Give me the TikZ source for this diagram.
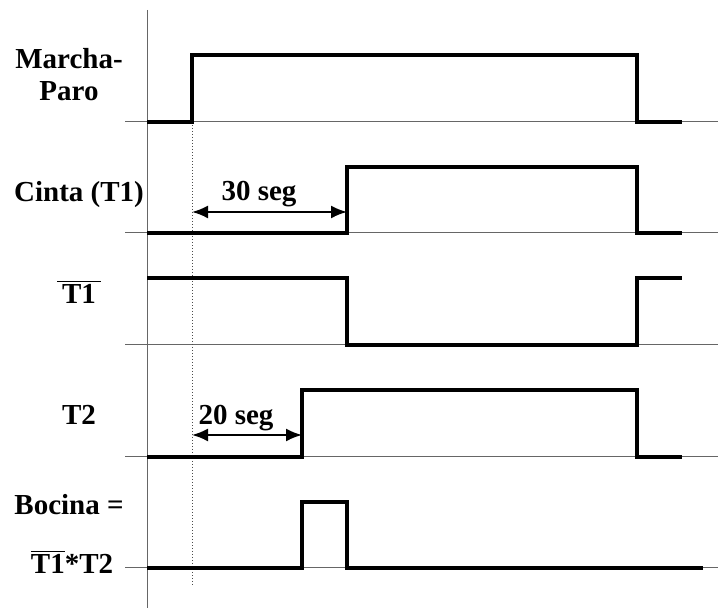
\documentclass[tikz,border=0pt]{standalone}
\usepackage{fontspec}
\setmainfont{Liberation Serif}
\usetikzlibrary{arrows.meta,positioning}

\begin{document}
\begin{tikzpicture}[x=0.5pt, y=0.5pt,
  every node/.style={font=\fontsize{14.5}{16}\selectfont\bfseries, inner sep=0pt},
  eje/.style={draw=black!60, line width=0.5pt},
  guia/.style={draw=black!70, densely dotted, line width=0.5pt},
  senal/.style={draw=black, line width=2pt},
  cota/.style={draw=black, line width=1pt,
    {Latex[length=8pt,width=6.5pt]}-{Latex[length=8pt,width=6.5pt]}}]
  \useasboundingbox (0,0) rectangle (718,608);
  \foreach \y in {486,375,263,151,40}
    \draw[eje] (125,\y) -- (718,\y);
  \draw[eje] (147,598) -- (147,0);
  \draw[guia] (192,486) -- (192,21);
  \node[align=center] (marcha) at (69,533) {Marcha-\\Paro};
  \node (cinta) at (79,413) {Cinta (T1)};
  \node (t1neg) at (79,316) {$\overline{\mbox{\,T1\,}}$};
  \node (t2) at (79,193) {T2};
  \node (bocina) at (69,103) {Bocina =};
  \node (producto) at (72,46) {$\overline{\mbox{T1}}$*T2};
  \draw[senal] (147,486) -| (192,553) -| (637,486) -- (682,486);
  \draw[senal] (147,375) -| (347,441) -| (637,375) -- (682,375);
  \draw[senal] (147,330) -| (347,263) -| (637,330) -- (682,330);
  \draw[senal] (147,151) -| (302,218) -| (637,151) -- (682,151);
  \draw[senal] (147,40) -| (302,106) -| (347,40) -- (703,40);
  \coordinate (ini30) at (192,396);
  \coordinate (fin30) at (347,396);
  \coordinate (ini20) at (192,173);
  \coordinate (fin20) at (302,173);
  \draw[cota] (ini30) -- (fin30);
  \draw[cota] (ini20) -- (fin20);
  \node (seg30) at (259,414) {30 seg};
  \node (seg20) at (236,190) {20 seg};
\end{tikzpicture}
\end{document}
